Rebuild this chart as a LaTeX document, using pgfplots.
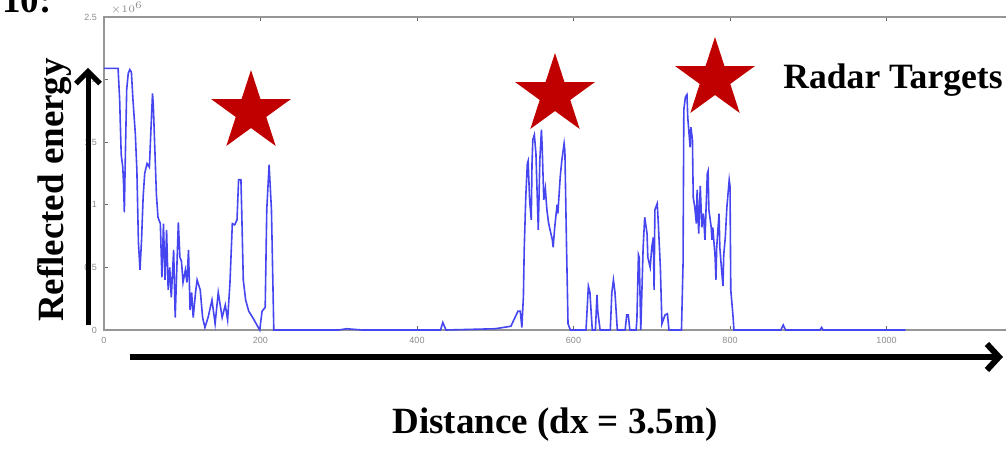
\documentclass[border=0pt]{standalone}
\usepackage{fontspec}
\setmainfont{Liberation Serif}
\setsansfont{Liberation Sans}
\usepackage{pgfplots}
\pgfplotsset{compat=1.18}
\usetikzlibrary{arrows.meta,shapes.geometric}
\definecolor{sigblue}{RGB}{70,70,240}
\definecolor{starred}{RGB}{192,0,0}
\definecolor{axgray}{RGB}{150,150,150}

% reflected energy (x 1e6) against range bin
\pgfplotstableread{
x y
0 2.09
18 2.09
20 1.84
22 1.40
24 1.30
25 1.17
26 0.94
27 1.30
29 1.92
31 2.05
33 2.08
35 2.06
37 1.84
40 1.57
42 1.28
44 0.70
46 0.48
48 0.72
50 1.06
52 1.25
55 1.33
58 1.30
60 1.60
62 1.89
63 1.80
65 1.44
67 1.08
69 0.90
72 0.85
74 0.42
76 0.85
78 0.40
80 0.80
82 0.32
84 0.50
86 0.26
89 0.64
91 0.10
95 0.86
97 0.58
99 0.55
101 0.38
104 0.48
106 0.38
108 0.64
110 0.16
112 0.30
114 0.10
117 0.30
119 0.40
123 0.32
126 0.10
129 0.02
133 0.10
138 0.24
142 0.05
146 0.30
151 0.10
155 0.20
158 0.08
161 0.38
164 0.85
167 0.84
170 0.88
172 1.20
175 1.20
176 0.95
178 0.40
181 0.24
185 0.15
190 0.10
199 0.00
202 0.15
206 0.18
208 0.96
211 1.32
214 0.96
217 0.00
300 0.00
310 0.01
330 0.00
430 0.00
433 0.06
437 0.00
500 0.01
520 0.03
529 0.15
532 0.15
534 0.02
536 0.27
537 0.64
539 1.06
541 1.33
542 1.35
544 1.03
546 0.88
547 1.33
548 1.52
550 1.56
552 1.41
553 1.20
555 0.80
557 1.36
559 1.60
560 1.46
562 1.04
564 1.13
566 0.96
568 0.86
570 0.80
573 0.72
574 0.66
576 0.82
579 1.00
580 0.93
583 1.22
585 1.35
588 1.49
589 1.43
591 0.70
593 0.05
596 0.00
616 0.00
619 0.35
621 0.30
624 0.00
628 0.00
630 0.28
631 0.15
634 0.00
647 0.00
649 0.30
651 0.40
653 0.30
656 0.00
666 0.00
668 0.12
670 0.12
672 0.00
680 0.00
681 0.08
683 0.60
684 0.58
686 0.00
689 0.66
691 0.90
694 0.77
695 0.58
698 0.50
700 0.66
702 0.74
703 0.32
704 0.96
707 1.01
708 0.90
711 0.50
713 0.05
717 0.12
720 0.13
722 0.00
738 0.00
740 0.53
741 1.76
743 1.86
745 1.88
746 1.70
749 1.46
750 1.62
752 1.52
753 1.06
755 0.98
757 0.85
758 1.12
760 0.77
762 1.15
764 0.82
766 0.93
768 0.72
771 1.25
772 1.27
773 0.96
776 0.82
777 0.72
778 0.82
781 0.58
782 0.40
783 0.66
786 0.93
787 0.66
789 0.50
791 0.35
792 0.60
794 0.74
796 0.98
799 1.20
800 1.15
801 0.32
804 0.10
805 0.00
865 0.00
868 0.04
871 0.00
915 0.00
917 0.02
919 0.00
1024 0.00
}\echo

\begin{document}
\begin{tikzpicture}
\begin{axis}[
  at={(0,0)}, anchor=south west,
  scale only axis, width=469.5pt, height=156.5pt,
  xmin=0, xmax=1200, ymin=0, ymax=2.5,
  xtick={0,200,...,1200}, ytick={0,0.5,...,2.5},
  xticklabels={0,200,400,600,800,1000,},
  yticklabels={0,0.5,1,1.5,2,2.5},
  axis line style={axgray, line width=0.6pt},
  tick style={black!60, line width=0.4pt},
  major tick length=2pt, tick align=inside,
  ticklabel style={font=\sffamily\fontsize{4.5}{5}\selectfont, text=black!45},
  /pgf/number format/assume math mode=true,
  clip=false]
  \addplot[sigblue, line width=0.8pt] table[x=x, y=y] {\echo};
  \node[anchor=south west, inner sep=0pt, font=\sffamily\fontsize{4.5}{5}\selectfont, text=black!45]
    at (axis cs:8,2.52) {$\times 10^{6}$};
\end{axis}

% annotations (1pt = 2 px of the reference)
\draw[line width=2.5pt, -{Straight Barb[length=6pt,width=12pt]}] (-8pt,2.5pt) -- (-8pt,131pt);
\draw[line width=3pt, -{Straight Barb[length=6pt,width=13pt]}] (13pt,-13.5pt) -- (449.5pt,-13.5pt);
\node[rotate=90, font=\bfseries\fontsize{18.5}{20}\selectfont] at (-24.5pt,70pt) {Reflected energy};
\node[font=\bfseries\fontsize{18.5}{20}\selectfont] at (225.5pt,-47.5pt) {Distance (dx = 3.5m)};
\node[anchor=west, inner sep=0pt, font=\bfseries\fontsize{17.8}{20}\selectfont] at (339.5pt,125pt) {Radar Targets};
\node[anchor=base west, inner sep=0pt, font=\bfseries\fontsize{18.5}{20}\selectfont] at (-51pt,158.5pt) {10:};
\foreach \p in {(73.5pt,109pt),(225.5pt,117.5pt),(305.5pt,125.5pt)}
  \node[star, star points=5, star point ratio=2.618, minimum size=42pt, inner sep=0pt, fill=starred] at \p {};

\pgfresetboundingbox
\useasboundingbox (-52pt,-59.5pt) rectangle (451pt,165pt);
\end{tikzpicture}
\end{document}
